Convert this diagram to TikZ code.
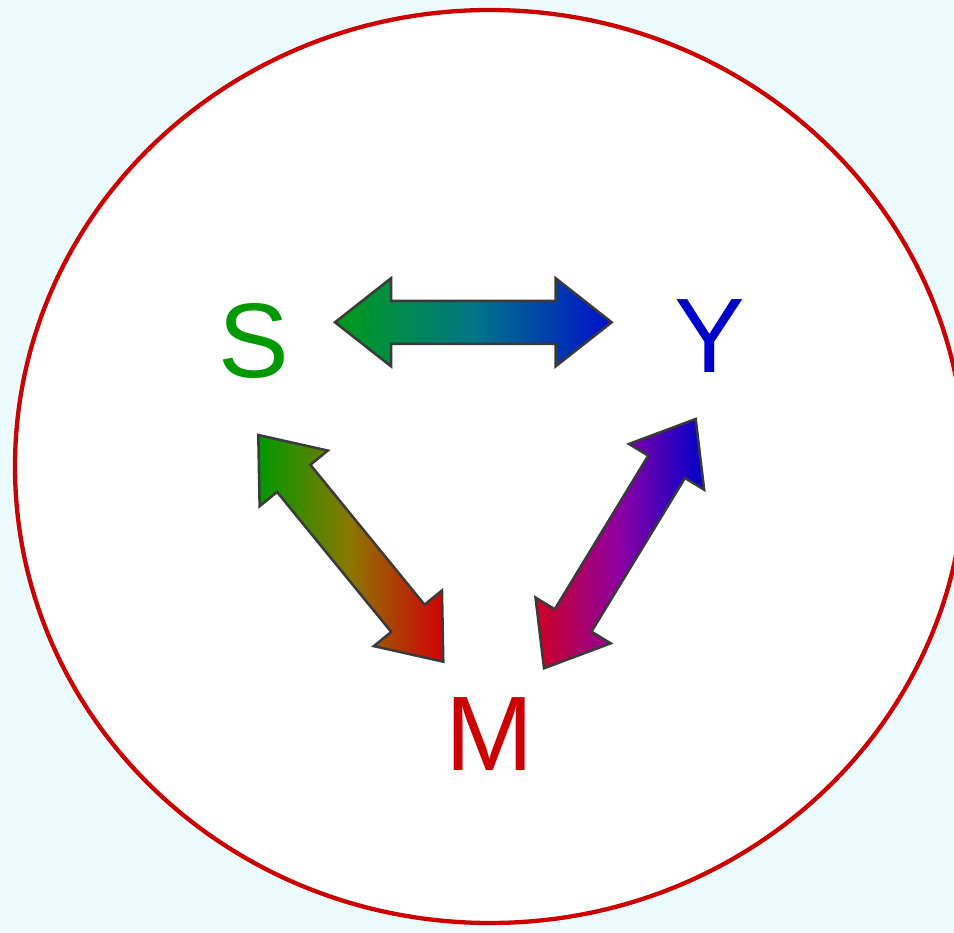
\documentclass[tikz,border=0pt]{standalone}
\usepackage{fontspec}
\setmainfont{Liberation Sans}
\usetikzlibrary{calc}
\definecolor{bgcyan}{RGB}{235,251,254}
\definecolor{ringred}{RGB}{204,0,0}
\definecolor{sgreen}{RGB}{0,153,0}
\definecolor{yblue}{RGB}{0,0,204}
\definecolor{mred}{RGB}{204,0,0}
\definecolor{agreen}{RGB}{0,155,25}
\definecolor{ablue}{RGB}{0,16,204}
\definecolor{ared}{RGB}{210,0,10}
\definecolor{ared2}{RGB}{205,0,35}
\definecolor{midteal}{RGB}{0,118,135}
\definecolor{midolive}{RGB}{140,118,0}
\definecolor{midpurple}{RGB}{140,0,165}
\definecolor{edgegray}{RGB}{58,58,58}
\newcommand\hl{56pt}
\newcommand\hw{44pt}
\newcommand\sw{21.5pt}
% #1 start coordinate, #2 end coordinate, #3 left, #4 middle, #5 right colour
\newcommand\blockarrow[5]{%
  \path[arrowbody, left color=#3, right color=#5, middle color=#4]
    (#1)
    -- ($(#1)!\hl!(#2)!\hw!90:(#2)$)
    -- ($(#1)!\hl!(#2)!\sw!90:(#2)$)
    -- ($(#2)!\hl!(#1)!\sw!-90:(#1)$)
    -- ($(#2)!\hl!(#1)!\hw!-90:(#1)$)
    -- (#2)
    -- ($(#2)!\hl!(#1)!\hw!90:(#1)$)
    -- ($(#2)!\hl!(#1)!\sw!90:(#1)$)
    -- ($(#1)!\hl!(#2)!\sw!-90:(#2)$)
    -- ($(#1)!\hl!(#2)!\hw!-90:(#2)$)
    -- cycle;}
\tikzset{
  ring/.style={draw=ringred, line width=4.3pt, fill=white},
  letter/.style={font=\fontsize{106}{106}\selectfont, inner sep=0pt, anchor=base},
  arrowbody/.style={draw=edgegray, line width=2.5pt, line join=miter}
}
\begin{document}
\begin{tikzpicture}[x=1pt,y=-1pt]
  \useasboundingbox (0,0) rectangle (954,933);
  \fill[bgcyan] (0,0) rectangle (954,933);
  \begin{scope}
    \clip (0,0) rectangle (954,933);
    \path[ring] (490,466.5) ellipse [x radius=475pt, y radius=456.5pt];
  \end{scope}

  \node[letter, text=sgreen] (S) at (254,378) {S};
  \node[letter, text=yblue] (Y) at (710,373) {Y};
  \node[letter, text=mred] (M) at (490,770.7) {M};

  \coordinate (sy1) at (335,322.3);
  \coordinate (sy2) at (611.7,322.3);
  \coordinate (sm1) at (258.3,435);
  \coordinate (sm2) at (443.3,661.7);
  \coordinate (my1) at (544,668.3);
  \coordinate (my2) at (695.7,419);

  \blockarrow{sy1}{sy2}{agreen}{midteal}{ablue}
  \blockarrow{sm1}{sm2}{sgreen}{midolive}{ared}
  \blockarrow{my1}{my2}{ared2}{midpurple}{yblue}
\end{tikzpicture}
\end{document}
